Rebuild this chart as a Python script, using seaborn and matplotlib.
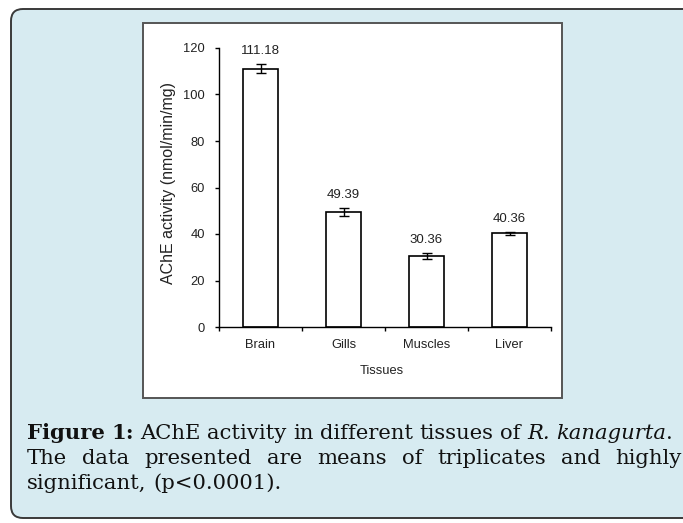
import numpy as np
import pandas as pd
import matplotlib
matplotlib.use("Agg")
import matplotlib.pyplot as plt
import seaborn as sns
from matplotlib.patches import FancyBboxPatch, Rectangle
from matplotlib.transforms import IdentityTransform

# ---- data ----
tissues = ["Brain", "Gills", "Muscles", "Liver"]
activity = [111.18, 49.39, 30.36, 40.36]
errors = [2.1, 1.8, 1.3, 0.7]
value_labels = ["111.18", "49.39", "30.36", "40.36"]
y_ticks = [0, 20, 40, 60, 80, 100, 120]
x_label = "Tissues"
y_label = "AChE activity (nmol/min/mg)"

W, H = 683, 523
sns.set_theme(style="ticks")
plt.rcParams['font.family'] = ['Liberation Sans', 'DejaVu Sans']

fig = plt.figure(figsize=(W / 100, H / 100), dpi=100, facecolor="white")

# outer rounded light-blue panel
bg = FancyBboxPatch((11, H - 518), 720, 509,
                    boxstyle="round,pad=0,rounding_size=12",
                    transform=IdentityTransform(), fc="#d7ebf1", ec="#3a3a3a",
                    lw=1.4, zorder=0)
fig.add_artist(bg)
# inner white chart box
box = Rectangle((143, H - 398), 562 - 143, 398 - 23, transform=IdentityTransform(),
                fc="white", ec="#555555", lw=1.4, zorder=1)
fig.add_artist(box)

ax = fig.add_axes([219 / W, 1 - 327 / H, (551 - 219) / W, (327 - 48) / H])
ax.set_zorder(2)
ax.patch.set_alpha(0)

df = pd.DataFrame({"tissue": tissues, "activity": activity})
sns.barplot(data=df, x="tissue", y="activity", color="white", edgecolor="black",
            linewidth=1.2, width=0.41, errorbar=None, ax=ax, saturation=1)
ax.errorbar(np.arange(len(tissues)), activity, yerr=errors, fmt="none",
            ecolor="black", elinewidth=1.0, capsize=3.6, capthick=1.0)
for i, (v, e, lbl) in enumerate(zip(activity, errors, value_labels)):
    ax.annotate(lbl, (i, v + e), xytext=(0, 5), textcoords="offset points",
                ha="center", va="bottom", fontsize=9.5, color="#222222")

ax.set_ylim(0, 120)
ax.set_xlim(-0.5, len(tissues) - 0.5)
ax.set_yticks(y_ticks)
ax.set_yticklabels([str(t) for t in y_ticks])
ax.set_xticks(np.arange(len(tissues)))
ax.set_xticks(np.arange(len(tissues) + 1) - 0.5, minor=True)
ax.tick_params(axis="x", which="major", length=0, pad=9, labelsize=9.3, labelcolor="#222222")
ax.tick_params(axis="x", which="minor", length=3, width=1, color="black", direction="out")
ax.tick_params(axis="y", which="major", length=3, width=1, color="black", direction="out",
               pad=7, labelsize=9.3, labelcolor="#222222")
for s in ["top", "right"]:
    ax.spines[s].set_visible(False)
for s in ["left", "bottom"]:
    ax.spines[s].set_color("black")
    ax.spines[s].set_linewidth(1.0)

ax.set_xlabel(x_label, fontsize=9.3, color="#222222")
ax.xaxis.set_label_coords(0.49, (327 - 371) / 279)
ax.xaxis.label.set_va("center")
ax.set_ylabel(y_label, fontsize=11.5, color="#222222")
ax.yaxis.set_label_coords((169 - 219) / 332, (327 - 183.5) / 279)
ax.yaxis.label.set_va("center")

# ---- caption (justified) ----
cap_font = ['DejaVu Serif']
renderer = fig.canvas.get_renderer()
lines = [
    ([[("Figure", "bold", "normal")], [("1:", "bold", "normal")],
      [("AChE", "normal", "normal")], [("activity", "normal", "normal")],
      [("in", "normal", "normal")], [("different", "normal", "normal")],
      [("tissues", "normal", "normal")], [("of", "normal", "normal")],
      [("R.", "normal", "italic")],
      [("kanagurta", "normal", "italic"), (".", "normal", "normal")]], 439, 673),
    ([[(w, "normal", "normal")] for w in
      "The data presented are means of triplicates and highly".split()], 464, 682),
    ([[(w, "normal", "normal")] for w in
      "significant, (p<0.0001).".split()], 489, None),
]
x0 = 27


def measure(s, weight, style, size):
    t = fig.text(0, 0, s, fontsize=size, family=cap_font, weight=weight, style=style)
    w = t.get_window_extent(renderer).width
    t.remove()
    return w


# choose font size so that the first line fits with normal word spacing
size = 13.0
line1 = lines[0][0]
nat = sum(measure(s, wt, st, size) for word in line1 for (s, wt, st) in word)
sp = measure("a a", "normal", "normal", size) - measure("aa", "normal", "normal", size)
nat += sp * (len(line1) - 1)
size = size * (673 - x0) / nat
cap_size = size

space_w = measure("a a", "normal", "normal", cap_size) - measure("aa", "normal", "normal", cap_size)
for words, base, xend in lines:
    widths = [[measure(s, wt, st, cap_size) for (s, wt, st) in word] for word in words]
    total = sum(sum(ws) for ws in widths)
    if xend is not None and len(words) > 1:
        gap = (xend - x0 - total) / (len(words) - 1)
    else:
        gap = space_w
    x = x0
    for word, ws in zip(words, widths):
        for (s, wt, st), w in zip(word, ws):
            fig.text(x / W, 1 - base / H, s, fontsize=cap_size, family=cap_font,
                     weight=wt, style=st, ha="left", va="baseline", color="#111111")
            x += w
        x += gap

fig.savefig("out.png", dpi=100, facecolor="white")
